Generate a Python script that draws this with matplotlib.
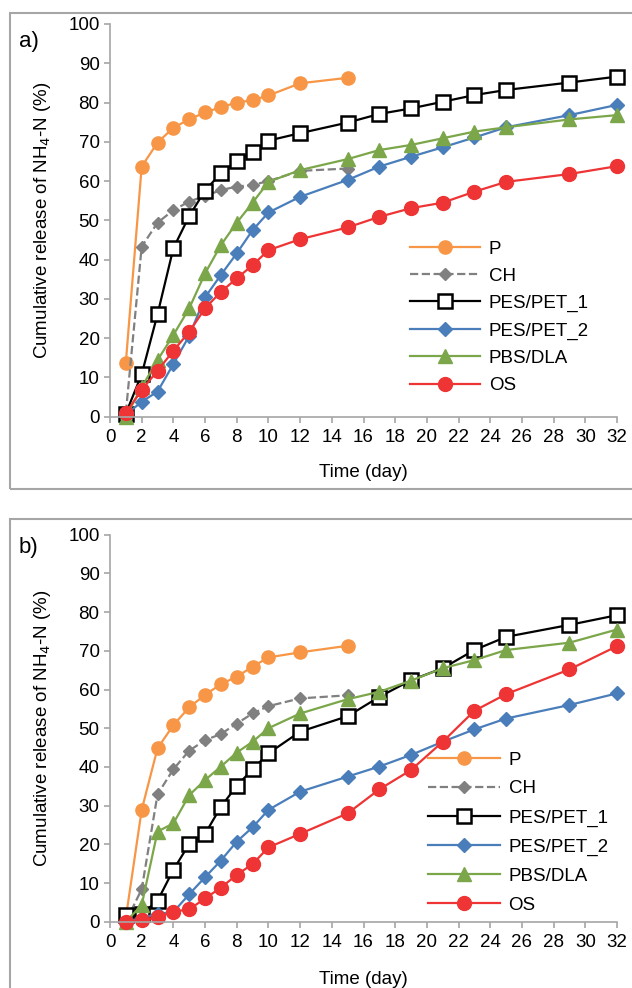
import matplotlib
matplotlib.use('Agg')
import matplotlib.pyplot as plt
from matplotlib.patches import Rectangle

plt.rcParams['font.family'] = ['Liberation Sans', 'DejaVu Sans']

# ---- data: sampling days --------------------------------------------------
days_short = [1, 2, 3, 4, 5, 6, 7, 8, 9, 10, 12, 15]
days_long = [1, 2, 3, 4, 5, 6, 7, 8, 9, 10, 12, 15, 17, 19, 21, 23, 25, 29, 32]

series_names = ['P', 'CH', 'PES/PET_1', 'PES/PET_2', 'PBS/DLA', 'OS']

# ---- panel a) -------------------------------------------------------------
a_p = [13.8, 63.7, 69.8, 73.6, 75.7, 77.5, 78.8, 80.0, 80.6, 81.8, 84.9, 86.3]
a_ch = [1.0, 43.3, 49.4, 52.6, 54.8, 56.2, 57.7, 58.6, 59.0, 60.0, 62.6, 63.2]
a_pet1 = [0.8, 10.8, 26.1, 42.9, 51.1, 57.6, 62.0, 65.1, 67.5, 70.3, 72.2, 74.9,
          77.1, 78.5, 80.2, 81.9, 83.2, 85.1, 86.6]
a_pet2 = [0.5, 3.8, 6.4, 13.4, 20.6, 30.4, 36.1, 41.6, 47.5, 52.0, 56.0, 60.3,
          63.7, 66.2, 68.6, 71.1, 73.7, 76.8, 79.4]
a_pbs = [0.0, 7.5, 14.4, 20.8, 27.6, 36.5, 43.7, 49.4, 54.5, 59.8, 62.8, 65.6,
         67.9, 69.2, 70.9, 72.6, 73.7, 75.7, 76.8]
a_os = [1.0, 6.8, 11.7, 16.8, 21.6, 27.6, 31.8, 35.2, 38.6, 42.4, 45.2, 48.2,
        50.9, 53.1, 54.5, 57.3, 59.8, 61.8, 63.8]

# ---- panel b) -------------------------------------------------------------
b_p = [1.0, 28.9, 44.8, 50.8, 55.4, 58.6, 61.4, 63.3, 65.9, 68.3, 69.6, 71.3]
b_ch = [0.0, 8.4, 32.9, 39.4, 44.2, 46.9, 48.5, 51.2, 53.8, 55.7, 57.7, 58.5]
b_pet1 = [1.7, 2.0, 5.4, 13.4, 20.1, 22.7, 29.7, 35.1, 39.4, 43.5, 49.1, 53.1,
          58.1, 62.4, 65.5, 70.2, 73.6, 76.7, 79.2]
b_pet2 = [0.0, 1.0, 2.0, 2.5, 7.1, 11.5, 15.8, 20.7, 24.4, 28.9, 33.6, 37.5,
          40.1, 43.1, 46.5, 49.7, 52.5, 56.0, 59.0]
b_pbs = [0.0, 4.3, 23.3, 25.4, 32.7, 36.6, 40.1, 43.7, 46.5, 50.0, 53.8, 57.5,
         59.4, 62.3, 65.5, 67.6, 70.2, 72.1, 75.5]
b_os = [0.0, 0.4, 1.1, 2.6, 3.2, 6.0, 8.8, 12.1, 14.9, 19.2, 22.7, 28.0,
        34.2, 39.2, 46.5, 54.5, 58.8, 65.2, 71.2]

styles = [
    dict(color='#F79646', marker='o', ms=9.5, ls='-'),
    dict(color='#808080', marker='D', ms=6.5, ls='--'),
    dict(color='black', marker='s', ms=9.5, ls='-', mfc='white', mew=1.8),
    dict(color='#4A7EBB', marker='D', ms=7, ls='-'),
    dict(color='#7BA64A', marker='^', ms=9.5, ls='-'),
    dict(color='#EE3434', marker='o', ms=10, ls='-'),
]

W, H = 632, 988
fig = plt.figure(figsize=(W / 100, H / 100), dpi=100)

GRAY = '#A6A6A6'
FS = 13.5


def draw_panel(rect, values, leg_anchor, leg_spacing, handle_len, xlabelpad):
    ax = fig.add_axes(rect)
    for name, ys, st in zip(series_names, values, styles):
        xs = days_short if len(ys) == len(days_short) else days_long
        ax.plot(xs, ys, label=name, lw=1.6, clip_on=False, **st)
    ax.set_xlim(0, 32)
    ax.set_ylim(0, 100)
    ax.set_xticks(range(0, 33, 2))
    ax.set_yticks(range(0, 101, 10))
    for s in ['top', 'right']:
        ax.spines[s].set_visible(False)
    for s in ['left', 'bottom']:
        ax.spines[s].set_color(GRAY)
        ax.spines[s].set_linewidth(1.2)
    ax.tick_params(colors=GRAY, labelcolor='black', labelsize=FS,
                   length=4, width=1.2)
    ax.tick_params(axis='x', pad=4.5)
    ax.set_xlabel('Time (day)', fontsize=FS, labelpad=xlabelpad)
    ax.set_ylabel('Cumulative release of NH$_4$-N (%)', fontsize=FS,
                  labelpad=11)
    ax.legend(loc='upper left', bbox_to_anchor=leg_anchor, frameon=False,
              fontsize=FS, handlelength=handle_len, handletextpad=0.45,
              borderpad=0, borderaxespad=0, labelspacing=leg_spacing)
    return ax


# axes placement in pixels: x 110..617
left = 110 / W
width = 507 / W
ax_a = draw_panel([left, 1 - 416.7 / H, width, 392.7 / H],
                  [a_p, a_ch, a_pet1, a_pet2, a_pbs, a_os],
                  (0.592, 0.449), 0.54, 3.75, 13)
ax_b = draw_panel([left, 1 - 921.7 / H, width, 387 / H],
                  [b_p, b_ch, b_pet1, b_pet2, b_pbs, b_os],
                  (0.627, 0.440), 0.63, 3.85, 15)

# panel frames and tags
fig.add_artist(Rectangle((10 / W, 1 - 489 / H), 640 / W, 476 / H,
                         transform=fig.transFigure, fill=False,
                         edgecolor=GRAY, lw=1.5))
fig.add_artist(Rectangle((10 / W, 1 - 1010 / H), 640 / W, 491 / H,
                         transform=fig.transFigure, fill=False,
                         edgecolor=GRAY, lw=1.5))
fig.text(19 / W, 1 - 42 / H, 'a)', fontsize=16, va='center', ha='left')
fig.text(19 / W, 1 - 548 / H, 'b)', fontsize=16, va='center', ha='left')

fig.savefig('out.png', dpi=100)
